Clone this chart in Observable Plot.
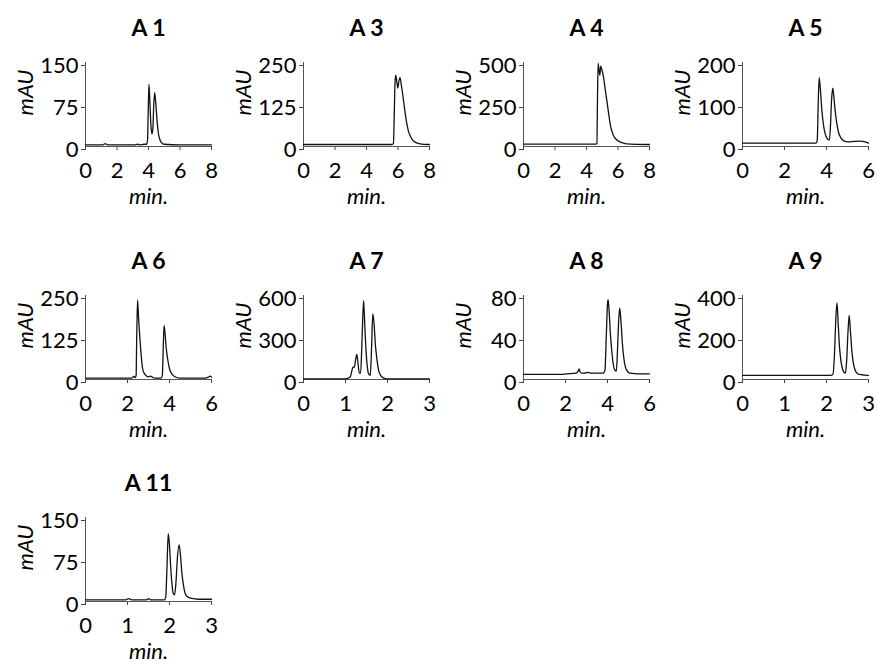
<!DOCTYPE html>
<html>
<head>
<meta charset="utf-8">
<script src="https://cdn.jsdelivr.net/npm/d3@7"></script>
<script src="https://cdn.jsdelivr.net/npm/@observablehq/plot@0.6"></script>
<style>
  html, body { margin: 0; padding: 0; background: #fff; }
  #wrap { position: relative; width: 877px; height: 664px; overflow: hidden; }
  #wrap svg { position: absolute; overflow: visible; }
</style>
</head>
<body>
<div id="wrap"></div>
<script>
// ---- chart data ----
const titles = ["A 1", "A 3", "A 4", "A 5", "A 6", "A 7", "A 8", "A 9", "A 11"];
const xTicks = [[0,2,4,6,8],[0,2,4,6,8],[0,2,4,6,8],[0,2,4,6],[0,2,4,6],[0,1,2,3],[0,2,4,6],[0,1,2,3],[0,1,2,3]];
const yTicks = [[0,75,150],[0,125,250],[0,250,500],[0,100,200],[0,125,250],[0,300,600],[0,40,80],[0,200,400],[0,75,150]];
const xLabel = "min.";
const yLabel = "mAU";

// chromatogram traces: [time (min), signal (mAU)]
const a1 = [[0,3],[1.1,3],[1.25,5],[1.4,3],[3.1,3],[3.3,4],[3.5,3],[3.7,4],[3.88,4],[3.94,12],[3.98,60],[4.03,111],[4.09,78],[4.15,40],[4.22,22],[4.28,34],[4.33,72],[4.39,96],[4.46,78],[4.55,44],[4.65,20],[4.8,8],[5.0,4],[6,3],[8,3]];
const a3 = [[0,6],[5.6,6],[5.71,8],[5.76,90],[5.81,190],[5.86,212],[5.93,190],[5.99,174],[6.06,195],[6.13,205],[6.22,180],[6.35,137],[6.46,98],[6.56,68],[6.66,46],[6.77,32],[6.92,20],[7.09,13],[7.4,8],[8,6]];
const a4 = [[0,14],[4.6,14],[4.66,18],[4.7,300],[4.74,494],[4.8,450],[4.85,424],[4.9,478],[4.97,460],[5.08,414],[5.18,345],[5.29,275],[5.4,200],[5.5,135],[5.6,95],[5.71,66],[5.85,46],[6.03,32],[6.3,22],[6.56,16],[7.2,13],[8,12]];
const a5 = [[0,8],[3.5,8],[3.56,15],[3.6,90],[3.65,164],[3.71,135],[3.78,86],[3.86,50],[3.94,30],[4.02,20],[4.1,16],[4.14,16],[4.19,50],[4.24,110],[4.3,139],[4.35,118],[4.41,86],[4.49,55],[4.57,34],[4.68,21],[4.81,14],[5.05,11],[5.3,12],[5.6,13],[5.85,11],[6,8]];
const a6 = [[0,4],[2.2,4],[2.3,9],[2.36,6],[2.41,12],[2.44,130],[2.48,237],[2.53,180],[2.61,106],[2.67,60],[2.72,32],[2.8,18],[2.88,12],[3.0,8],[3.1,10],[3.2,6],[3.3,4],[3.6,4],[3.66,12],[3.7,90],[3.74,161],[3.79,135],[3.84,96],[3.92,58],[4.0,32],[4.12,16],[4.24,9],[4.5,4],[5.7,4],[5.85,7],[5.93,10],[6,7]];
const a7 = [[0,5],[0.95,5],[1.03,7],[1.11,17],[1.15,60],[1.18,90],[1.21,88],[1.24,140],[1.27,180],[1.3,110],[1.33,45],[1.36,45],[1.39,250],[1.43,564],[1.46,380],[1.49,200],[1.52,90],[1.55,40],[1.59,30],[1.62,220],[1.65,469],[1.68,400],[1.71,255],[1.75,140],[1.79,64],[1.84,28],[1.9,12],[1.98,5],[3,5]];
const a8 = [[0,4.8],[1.8,4.8],[2.05,5.4],[2.5,6],[2.6,8],[2.65,10],[2.7,7],[2.8,6],[2.95,6.2],[3.08,6.7],[3.2,6],[3.79,6],[3.88,9],[3.94,40],[4.0,72],[4.03,76],[4.08,64],[4.14,43],[4.21,26],[4.27,15],[4.35,9],[4.42,8],[4.47,25],[4.53,55],[4.58,68],[4.64,56],[4.71,34],[4.78,20],[4.85,12],[4.95,8],[5.06,6],[5.5,5.4],[6,5.4]];
const a9 = [[0,20],[2.1,20],[2.15,24],[2.19,120],[2.22,280],[2.25,365],[2.28,260],[2.31,154],[2.35,80],[2.39,45],[2.43,32],[2.45,30],[2.48,90],[2.51,220],[2.54,305],[2.57,230],[2.6,145],[2.63,90],[2.67,51],[2.72,32],[2.78,24],[2.9,21],[3,20]];
const a11 = [[0,3],[0.95,3],[1.03,5],[1.1,3],[1.45,3],[1.5,5],[1.55,3],[1.88,3],[1.91,8],[1.94,60],[1.97,121],[2.0,100],[2.03,60],[2.06,30],[2.09,14],[2.12,12],[2.15,30],[2.19,80],[2.23,101],[2.26,84],[2.29,55],[2.33,30],[2.37,15],[2.42,9],[2.5,6],[2.7,4],[3,4]];
const traces = [a1, a3, a4, a5, a6, a7, a8, a9, a11];

// ---- layout ----
const colAxisX = [85, 303, 523, 742];
const rowFrameTop = [62, 295, 517];
const W = 220, mL = 85, mR = 9, mT = 62, mB = 64, H = mT + 84 + mB;
const font = "Lato, 'Open Sans', sans-serif";

const wrap = document.getElementById("wrap");
traces.forEach((tr, i) => {
  const r = Math.floor(i / 4), c = i % 4;
  const xt = xTicks[i], yt = yTicks[i];
  const data = tr.map(([t, v]) => ({t, v}));
  const chart = Plot.plot({
    width: W, height: H,
    marginLeft: mL, marginRight: mR, marginTop: mT, marginBottom: mB,
    style: {fontFamily: font, background: "transparent", color: "#000"},
    x: {domain: [xt[0], xt[xt.length - 1]], axis: null},
    y: {domain: [yt[0], yt[yt.length - 1]], axis: null},
    marks: [
      Plot.axisX({ticks: xt, tickSize: 4, tickPadding: 12, fontSize: 22, label: null, stroke: "#444", tickFormat: d => d}),
      Plot.axisY({ticks: yt, tickSize: 4, tickPadding: 3, fontSize: 22, label: null, stroke: "#444", dy: 3, tickFormat: d => d}),
      Plot.ruleY([yt[0]], {stroke: "#555", strokeWidth: 1}),
      Plot.ruleX([xt[0]], {stroke: "#555", strokeWidth: 1}),
      Plot.line(data, {x: "t", y: "v", stroke: "#111", strokeWidth: 1.3, curve: "monotone-x"}),
      Plot.text([titles[i]], {text: d => d, frameAnchor: "top", lineAnchor: "middle", textAnchor: "middle", dy: -34, fontSize: 23, fontWeight: "bold"}),
      Plot.text([yLabel], {text: d => d, frameAnchor: "left", lineAnchor: "middle", textAnchor: "middle", rotate: -90, dx: -60, dy: -12, fontSize: 22, fontStyle: "italic"}),
      Plot.text([xLabel], {text: d => d, frameAnchor: "bottom", lineAnchor: "middle", textAnchor: "middle", dy: 50, fontSize: 22, fontStyle: "italic"})
    ]
  });
  chart.style.left = (colAxisX[c] - mL) + "px";
  chart.style.top = (rowFrameTop[r] - mT) + "px";
  wrap.appendChild(chart);
});
</script>
</body>
</html>
